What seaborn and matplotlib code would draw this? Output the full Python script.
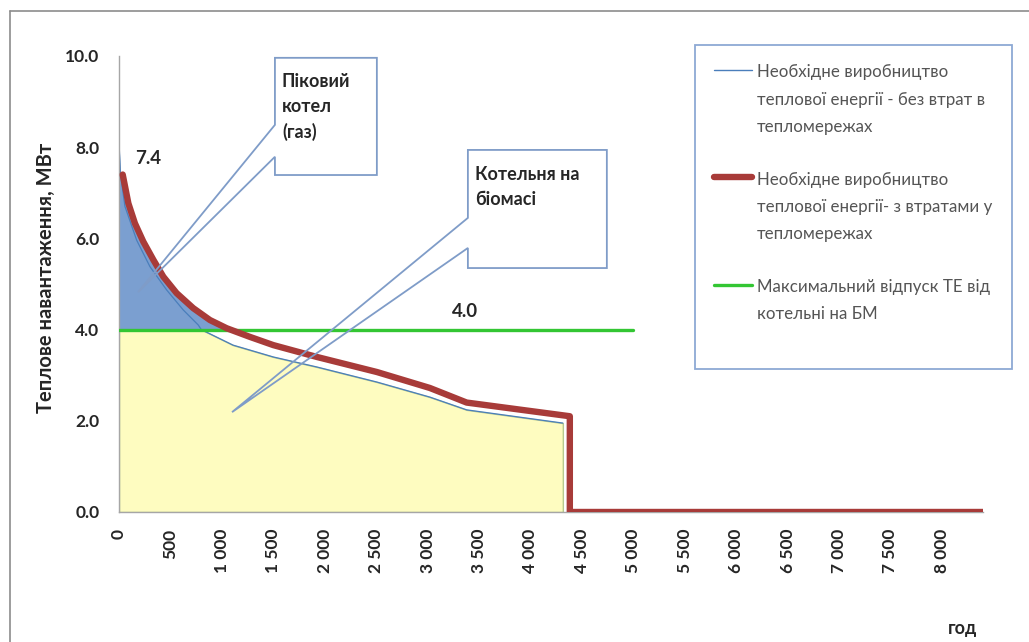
import numpy as np
import pandas as pd
import matplotlib
matplotlib.use('Agg')
import matplotlib.pyplot as plt
from matplotlib.patches import Polygon
from matplotlib.lines import Line2D
from matplotlib.legend_handler import HandlerLine2D
import seaborn as sns

sns.set_theme(style='white')
plt.rcParams['font.family'] = ['Lato', 'DejaVu Sans']

# --- дані (годин / МВт) ---
hours_loss = [36, 91, 155, 236, 334, 431, 560, 722, 884, 1047, 1273, 1500,
              1924, 2507, 3022, 3380, 4383, 4383, 8400]
load_loss = [7.4, 6.77, 6.33, 5.93, 5.53, 5.16, 4.80, 4.47, 4.21, 4.03, 3.84, 3.66,
             3.40, 3.07, 2.72, 2.40, 2.10, 0.0, 0.0]

hours_net = [0, 15, 58, 172, 301, 463, 625, 771, 800, 1108, 1500,
             1924, 2507, 3022, 3380, 4315]
load_net = [8.1, 7.4, 6.70, 5.96, 5.38, 4.87, 4.43, 4.10, 4.0, 3.66, 3.40,
            3.18, 2.85, 2.52, 2.24, 1.95]

bm_hours = [0, 5000]
bm_capacity = [4.0, 4.0]

peak_value = 7.4
x_ticks = list(range(0, 8001, 500))
y_ticks = [0, 2, 4, 6, 8, 10]

legend_labels = [
    'Необхідне виробництво\nтеплової енергії - без втрат в\nтепломережах',
    'Необхідне виробництво\nтеплової енергії- з втратами у\nтепломережах',
    'Максимальний відпуск ТЕ від\nкотельні на БМ\n',
]

RED = '#a83b39'
BLUE = '#4a7ebb'
BLUE_FILL = '#7b9fd0'
YELLOW = '#fefcc0'
GREEN = '#33c633'
BOX = '#7f9cc8'

df_loss = pd.DataFrame({'h': hours_loss, 'p': load_loss})
df_net = pd.DataFrame({'h': hours_net, 'p': load_net})
df_bm = pd.DataFrame({'h': bm_hours, 'p': bm_capacity})

fig = plt.figure(figsize=(10.29, 6.42), dpi=100)
ax = fig.add_axes([119 / 1029, 1 - 512 / 642, 864 / 1029, 456 / 642])

h_net = df_net['h'].to_numpy(float)
p_net = df_net['p'].to_numpy(float)
h_loss = df_loss['h'].to_numpy(float)
p_loss = df_loss['p'].to_numpy(float)
cap = bm_capacity[0]

# площа котельні на біомасі
ax.fill_between(h_net, 0, np.minimum(p_net, cap), color=YELLOW,
                edgecolor='#b7c98f', linewidth=1.0, zorder=1.4)
# площа пікового котла (над 4.0 МВт)
ax.fill_between(h_net, cap, p_net, where=p_net >= cap, interpolate=True,
                color=BLUE_FILL, linewidth=0, zorder=1.5)
ax.fill_between(h_loss, cap, p_loss, where=p_loss >= cap, interpolate=True,
                color=BLUE_FILL, linewidth=0, zorder=1.5)

sns.lineplot(data=df_net, x='h', y='p', ax=ax, color=BLUE, linewidth=0.9,
             sort=False, estimator=None, zorder=1.6)
sns.lineplot(data=df_bm, x='h', y='p', ax=ax, color=GREEN, linewidth=2.4,
             sort=False, estimator=None, zorder=3)
sns.lineplot(data=df_loss, x='h', y='p', ax=ax, color=RED, linewidth=4.6,
             sort=False, estimator=None, zorder=4, solid_capstyle='round',
             solid_joinstyle='round')

ax.set_xlim(0, 8400)
ax.set_ylim(0, 10)
sns.despine(ax=ax)
for s in ('left', 'bottom'):
    ax.spines[s].set_color('#a6a6a6')
    ax.spines[s].set_linewidth(1.0)

ax.set_xticks(x_ticks)
ax.set_xticklabels([f'{v:,}'.replace(',', ' ') for v in x_ticks],
                   rotation=90, fontsize=12.5, fontweight='bold')
ax.set_yticks(y_ticks)
ax.set_yticklabels([f'{v:.1f}' for v in y_ticks], fontsize=12.5, fontweight='bold')
ax.tick_params(axis='both', direction='out', length=5, width=1, color='#a6a6a6')
ax.tick_params(axis='y', pad=9)
ax.tick_params(axis='x', pad=7)

ax.set_ylabel('Теплове навантаження, МВт', fontsize=14.5, fontweight='bold')
ax.yaxis.set_label_coords(-0.073, 0.513)
ax.set_xlabel('год', fontsize=13, fontweight='bold')
ax.xaxis.set_label_coords(0.9757, -0.237)

# підписи значень
ax.text(282, 7.76, f'{peak_value:.1f}', fontsize=13.5, fontweight='bold',
        ha='center', va='center', zorder=6)
ax.text(3362, 4.39, f'{cap:.1f}', fontsize=13.5, fontweight='bold',
        ha='center', va='center', zorder=6)


# виноски
def callout(x0, x1, y0, y1, ya, yb, tip, text, ty):
    pts = [(x0, y1), (x1, y1), (x1, y0), (x0, y0), (x0, yb), tip, (x0, ya)]
    ax.add_patch(Polygon(pts, closed=True, facecolor='none', edgecolor=BOX,
                         linewidth=1.3, zorder=5, clip_on=False))
    ax.text(x0 + 68, ty, text, fontsize=13, fontweight='bold', ha='left',
            va='top', linespacing=1.55, zorder=6)


callout(1516, 2507, 7.39, 9.96, 8.49, 7.79, (185, 4.82),
        'Піковий\nкотел\n(газ)', 9.63)
callout(3392, 4743, 5.35, 7.94, 6.45, 5.79, (1099, 2.19),
        'Котельня на\nбіомасі', 7.59)


# легенда: маркер на рівні першого рядка
class FirstLineHandler(HandlerLine2D):
    def __init__(self, shift, **kw):
        super().__init__(**kw)
        self.shift = shift

    def create_artists(self, legend, orig_handle, xdescent, ydescent, width,
                       height, fontsize, trans):
        arts = super().create_artists(legend, orig_handle, xdescent, ydescent,
                                      width, height, fontsize, trans)
        for a in arts:
            a.set_ydata(np.asarray(a.get_ydata()) + self.shift)
        return arts


handles = [Line2D([], [], color=BLUE, linewidth=1.0),
           Line2D([], [], color=RED, linewidth=4.6, solid_capstyle='round'),
           Line2D([], [], color=GREEN, linewidth=2.4)]
hmap = {h: FirstLineHandler(21.6) for h in handles}
leg = ax.legend(handles, legend_labels, handler_map=hmap,
                loc='upper left', bbox_to_anchor=(695 / 1029, 1 - 45 / 642),
                bbox_transform=fig.transFigure, borderaxespad=0,
                fontsize=12.2, handlelength=2.2, handletextpad=0.3,
                borderpad=1.15, labelspacing=2.2, fancybox=False,
                frameon=True, edgecolor='#8da9d4', framealpha=1)
leg.get_frame().set_linewidth(1.3)
for t in leg.get_texts():
    t.set_color('#555555')
    t.set_linespacing(1.85)

# рамка діаграми
fig.add_artist(Line2D([10 / 1029, 1], [1 - 11 / 642] * 2,
                      transform=fig.transFigure, color='#8c8c8c', linewidth=1.2))
fig.add_artist(Line2D([10 / 1029, 10 / 1029], [0, 1 - 11 / 642],
                      transform=fig.transFigure, color='#8c8c8c', linewidth=1.2))

fig.savefig('out.png', dpi=100)
